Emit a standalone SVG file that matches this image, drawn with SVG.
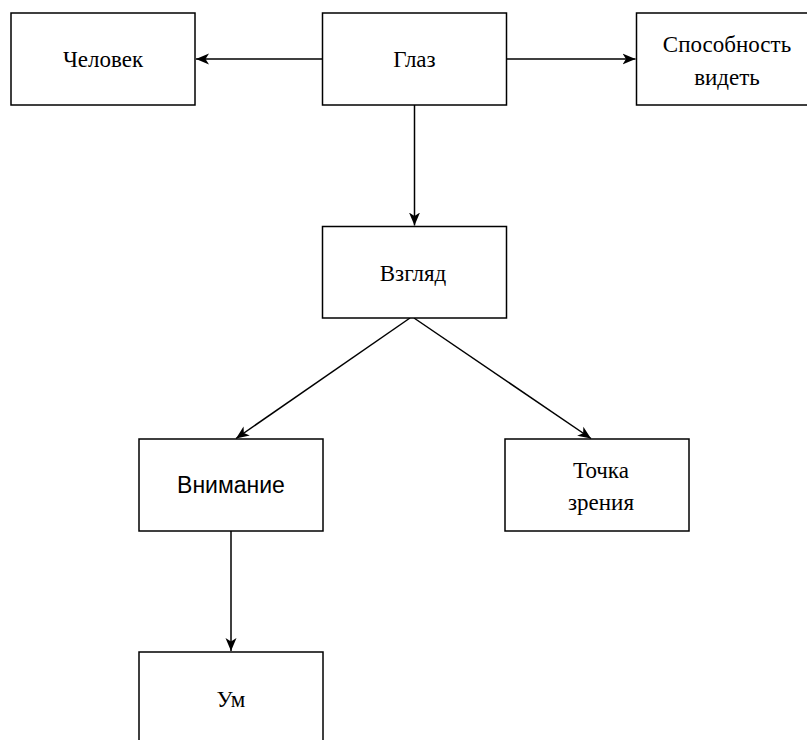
<svg xmlns="http://www.w3.org/2000/svg" width="807" height="740" viewBox="0 0 807 740">
  <style>
    .box { fill: #ffffff; stroke: #000000; stroke-width: 1.5; }
    .serif { font-family: "Liberation Serif", "Times New Roman", serif; font-size: 23px; fill: #000000; text-anchor: middle; }
    .sans { font-family: "Liberation Sans", Arial, sans-serif; font-size: 23px; fill: #000000; text-anchor: middle; }
    .edge { fill: none; stroke: #000000; stroke-width: 1.5; marker-end: url(#arrow); }
  </style>
  <defs>
    <marker id="arrow" markerUnits="userSpaceOnUse" markerWidth="14" markerHeight="12" viewBox="0 0 14 12" refX="13" refY="6" orient="auto">
      <path d="M0,0.5 L13,6 L0,11.5 L3.5,6 Z" fill="#000000"/>
    </marker>
  </defs>
  <rect width="807" height="740" fill="#ffffff"/>

  <g id="connectors">
    <line class="edge" x1="322.5" y1="59" x2="196" y2="59"/>
    <line class="edge" x1="506.5" y1="59" x2="635.5" y2="59"/>
    <line class="edge" x1="414.5" y1="105" x2="414.5" y2="225.5"/>
    <line class="edge" x1="410" y1="318" x2="236" y2="438.5"/>
    <line class="edge" x1="414" y1="318" x2="591" y2="438.5"/>
    <line class="edge" x1="231" y1="531" x2="231" y2="651"/>
  </g>

  <g id="node-chelovek">
    <rect class="box" x="11" y="13" width="184" height="92"/>
    <text class="serif" x="103" y="67">Человек</text>
  </g>
  <g id="node-glaz">
    <rect class="box" x="322.5" y="13" width="184" height="92"/>
    <text class="serif" x="414.5" y="67">Глаз</text>
  </g>
  <g id="node-sposobnost">
    <rect class="box" x="636.5" y="13" width="184" height="92"/>
    <text class="serif" x="727" y="52">Способность</text>
    <text class="serif" x="727" y="85">видеть</text>
  </g>
  <g id="node-vzglyad">
    <rect class="box" x="322.5" y="226.5" width="184" height="91.5"/>
    <text class="serif" x="413" y="281">Взгляд</text>
  </g>
  <g id="node-vnimanie">
    <rect class="box" x="139" y="439" width="184" height="92"/>
    <text class="sans" x="231" y="493">Внимание</text>
  </g>
  <g id="node-tochka">
    <rect class="box" x="505" y="439" width="184" height="92"/>
    <text class="serif" x="601" y="478">Точка</text>
    <text class="serif" x="601" y="510">зрения</text>
  </g>
  <g id="node-um">
    <rect class="box" x="139" y="652" width="184" height="92"/>
    <text class="serif" x="231" y="707">Ум</text>
  </g>
</svg>
